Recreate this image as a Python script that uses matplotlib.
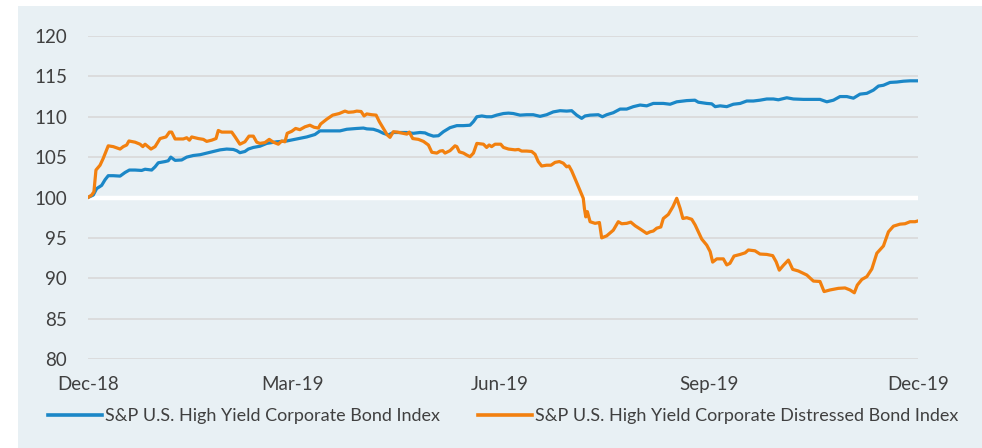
import pandas as pd
import matplotlib
matplotlib.use("Agg")
from matplotlib import pyplot as plt
from matplotlib.patches import Rectangle

# days after 31-Dec-2018
hy_days = [0, 2.3, 3.8, 6.0, 7.5, 8.9, 11.1, 14.1, 16.3, 18.2, 20.7, 23.6, 25.1, 28.0,
           29.5, 30.9, 33.9, 35.3, 36.4, 38.3, 41.2, 43.4, 46.3, 49.3, 52.2, 55.1,
           58.1, 61.0, 63.9, 65.4, 66.8, 69.0, 70.5, 72.7, 75.6, 78.6, 83.0, 87.4,
           91.8, 96.2, 99.8, 102.0, 106.4, 110.8, 113.8, 118.2, 121.1, 122.6, 125.5,
           127.7, 129.9, 132.1, 134.3, 137.2, 140.2, 143.1, 146.0, 148.2, 149.7,
           151.9, 154.1, 156.3, 159.2, 162.2, 165.1, 168.0, 169.5, 171.0, 173.2,
           175.3, 177.5, 179.7, 182.7, 184.9, 187.0, 190.0, 192.9, 195.8, 198.8,
           201.7, 204.6, 207.6, 210.5, 212.7, 214.9, 217.1, 218.6, 220.8, 224.4,
           226.2, 228.1, 231.0, 234.0, 236.9, 239.8, 242.8, 245.7, 248.6, 253.0,
           256.0, 258.9, 263.3, 266.9, 268.4, 272.1, 274.3, 275.8, 278.0, 280.9,
           283.8, 286.8, 289.7, 292.6, 295.5, 298.5, 301.4, 303.6, 307.3, 310.2,
           314.6, 319.0, 321.9, 324.9, 327.8, 330.7, 333.7, 336.6, 339.5, 342.5,
           345.4, 347.6, 349.8, 352.7, 355.7, 358.6, 361.5, 365]
hy_vals = [100, 100.3, 101.1, 101.5, 102.2, 102.7, 102.7, 102.65, 103.1, 103.4, 103.4,
           103.35, 103.5, 103.4, 103.8, 104.3, 104.45, 104.55, 105.0, 104.6, 104.65,
           105.0, 105.2, 105.3, 105.5, 105.7, 105.9, 106.0, 105.95, 105.8, 105.55,
           105.7, 106.0, 106.2, 106.35, 106.7, 106.9, 107.0, 107.25, 107.5, 107.8,
           108.25, 108.25, 108.25, 108.45, 108.55, 108.6, 108.5, 108.45, 108.25,
           107.95, 107.75, 108.05, 108.05, 108.05, 107.95, 108.05, 108.0, 107.8,
           107.6, 107.65, 108.15, 108.65, 108.9, 108.9, 108.95, 109.4, 110.0, 110.1,
           110.0, 110.0, 110.2, 110.4, 110.45, 110.4, 110.2, 110.25, 110.25, 110.05,
           110.25, 110.6, 110.75, 110.7, 110.75, 110.2, 109.8, 110.1, 110.2, 110.25,
           110.0, 110.25, 110.5, 110.95, 110.95, 111.25, 111.45, 111.35, 111.65,
           111.65, 111.55, 111.85, 112.0, 112.05, 111.8, 111.65, 111.6, 111.25,
           111.35, 111.25, 111.55, 111.65, 111.95, 111.95, 112.05, 112.2, 112.2,
           112.1, 112.35, 112.2, 112.15, 112.15, 112.15, 111.85, 112.05, 112.5,
           112.5, 112.3, 112.8, 112.9, 113.3, 113.8, 113.9, 114.25, 114.3, 114.4,
           114.45, 114.45]

dist_days = [0, 1.6, 2.6, 3.5, 5.3, 6.7, 8.9, 11.1, 14.1, 15.5, 17.0, 18.0, 20.7, 22.9,
             24.1, 25.1, 27.7, 29.5, 31.7, 34.3, 35.8, 36.8, 38.3, 41.9, 43.4, 44.6,
             45.6, 48.5, 50.7, 52.2, 54.4, 56.3, 57.3, 58.8, 63.2, 64.7, 66.8, 69.0,
             70.8, 72.7, 74.2, 75.6, 77.8, 79.7, 81.5, 83.7, 85.2, 86.6, 87.6, 89.6,
             91.3, 93.2, 95.4, 97.6, 99.4, 101.3, 102.3, 105.0, 107.6, 110.5, 113.0,
             114.5, 116.7, 118.2, 120.1, 121.4, 122.6, 124.8, 126.7, 128.1, 129.9,
             131.6, 132.8, 134.3, 136.0, 138.4, 140.2, 141.3, 142.8, 145.3, 147.5,
             149.7, 151.2, 153.4, 154.8, 156.0, 157.0, 159.2, 161.4, 162.2, 163.3,
             165.1, 166.6, 168.0, 169.5, 171.0, 173.9, 175.3, 176.4, 177.5, 179.0,
             181.5, 182.7, 184.9, 187.8, 189.3, 190.7, 192.9, 195.1, 196.6, 198.0,
             199.5, 201.7, 203.6, 205.4, 207.3, 209.0, 210.5, 211.5, 212.7, 214.9,
             217.8, 218.3, 218.9, 219.6, 220.8, 223.0, 224.9, 225.9, 228.1, 231.0,
             233.2, 234.7, 236.9, 238.7, 240.6, 242.8, 245.7, 247.2, 248.6, 250.1,
             251.9, 253.0, 255.2, 257.2, 258.9, 260.4, 261.6, 263.3, 265.5, 267.0,
             268.4, 269.9, 272.1, 273.6, 274.7, 276.5, 279.4, 280.9, 282.3, 284.1,
             286.8, 289.0, 290.4, 293.3, 295.5, 298.5, 301.1, 302.6, 304.0, 305.8,
             308.0, 309.9, 312.4, 316.1, 319.0, 321.9, 323.7, 326.3, 330.0, 332.9,
             335.1, 337.0, 338.3, 340.3, 342.5, 344.7, 346.9, 349.8, 352.0, 354.2,
             357.1, 359.3, 361.5, 363.7, 365]
dist_vals = [100, 100.3, 100.7, 103.4, 104.0, 104.85, 106.4, 106.3, 106.0, 106.3, 106.5,
             107.0, 106.85, 106.6, 106.3, 106.6, 106.0, 106.3, 107.3, 107.5, 108.1,
             108.1, 107.25, 107.25, 107.4, 107.1, 107.5, 107.3, 107.2, 106.95, 107.1,
             107.3, 108.3, 108.1, 108.1, 107.5, 106.6, 106.9, 107.6, 107.6, 106.85,
             106.7, 106.8, 107.2, 106.85, 106.6, 107.0, 106.9, 107.95, 108.2, 108.55,
             108.4, 108.75, 108.95, 108.7, 108.6, 109.1, 109.7, 110.2, 110.4, 110.7,
             110.55, 110.6, 110.7, 110.65, 110.1, 110.35, 110.25, 110.2, 109.4,
             108.55, 107.75, 107.45, 108.15, 108.1, 107.95, 107.85, 108.1, 107.3,
             107.2, 106.95, 106.5, 105.6, 105.5, 105.75, 105.8, 105.5, 105.8, 106.4,
             106.3, 105.65, 105.5, 105.25, 105.05, 105.5, 106.7, 106.6, 106.2, 106.5,
             106.3, 106.6, 106.6, 106.2, 106.0, 105.9, 105.95, 105.75, 105.75, 105.7,
             105.35, 104.45, 103.9, 104.0, 104.0, 104.35, 104.45, 104.25, 103.8,
             103.9, 103.3, 101.85, 99.9, 98.65, 97.6, 98.25, 97.0, 96.8, 96.9, 95.0,
             95.25, 95.95, 97.0, 96.75, 96.8, 96.95, 96.5, 96.1, 95.55, 95.75, 95.85,
             96.2, 96.35, 97.4, 97.9, 98.85, 99.9, 98.65, 97.4, 97.5, 97.3, 96.6,
             95.75, 94.85, 94.1, 93.3, 92.0, 92.4, 92.4, 91.65, 91.85, 92.75, 92.95,
             93.15, 93.5, 93.4, 93.0, 92.95, 92.8, 92.05, 91.0, 91.6, 92.25, 91.1,
             90.9, 90.4, 89.65, 89.6, 88.35, 88.55, 88.75, 88.8, 88.55, 88.2, 89.15,
             89.85, 90.2, 91.15, 93.1, 94.0, 95.75, 96.45, 96.7, 96.75, 97.0, 97.0,
             97.1]

tick_dates = ["2018-12-31", "2019-03-31", "2019-06-30", "2019-09-30", "2019-12-31"]
tick_labels = ["Dec-18", "Mar-19", "Jun-19", "Sep-19", "Dec-19"]
y_ticks = [80, 85, 90, 95, 100, 105, 110, 115, 120]

start = pd.Timestamp("2018-12-31")
hy_dates = start + pd.to_timedelta(hy_days, unit="D")
dist_dates = start + pd.to_timedelta(dist_days, unit="D")

plt.rcParams['font.family'] = ['Lato', 'DejaVu Sans']
text_col = '#404040'
bg = '#E8F0F4'

W, H = 982, 448
fig = plt.figure(figsize=(W / 100, H / 100), dpi=100)
fig.patch.set_facecolor('white')
fig.patches.append(Rectangle((18 / W, 0), 1 - 18 / W, 1 - 6 / H,
                             transform=fig.transFigure, facecolor=bg,
                             edgecolor='none', zorder=-10))

ax = fig.add_axes([88 / W, 1 - 359 / H, 830 / W, 323 / H])
ax.set_facecolor('none')

for v in y_ticks:
    if v == 100:
        ax.axhline(v, color='white', lw=3.2, zorder=1)
    else:
        ax.axhline(v, color='#D9D9D9', lw=1.2, zorder=1)

ax.plot(hy_dates, hy_vals, color='#1B87C7', lw=2.3, zorder=3,
        label='S&P U.S. High Yield Corporate Bond Index')
ax.plot(dist_dates, dist_vals, color='#F2800F', lw=2.3, zorder=3,
        label='S&P U.S. High Yield Corporate Distressed Bond Index')

ax.set_ylim(80, 120)
ax.set_xlim(start, pd.Timestamp(tick_dates[-1]))
ax.set_yticks(y_ticks)
ax.set_xticks(pd.to_datetime(tick_dates))
ax.set_xticklabels(tick_labels)
ax.tick_params(axis='y', length=0, pad=15, labelsize=13.5, labelcolor=text_col)
ax.tick_params(axis='x', length=0, pad=12, labelsize=13.5, labelcolor=text_col)
for s in ax.spines.values():
    s.set_visible(False)

leg = fig.legend(loc='center left', bbox_to_anchor=(48 / W, 1 - 416 / H), ncol=2,
                 frameon=False, fontsize=13, handlelength=3.0, handletextpad=0.15,
                 columnspacing=2.1, borderaxespad=0, borderpad=0)
for t in leg.get_texts():
    t.set_color(text_col)
for l in leg.get_lines():
    l.set_linewidth(2.6)

fig.savefig('out.png', dpi=100)
